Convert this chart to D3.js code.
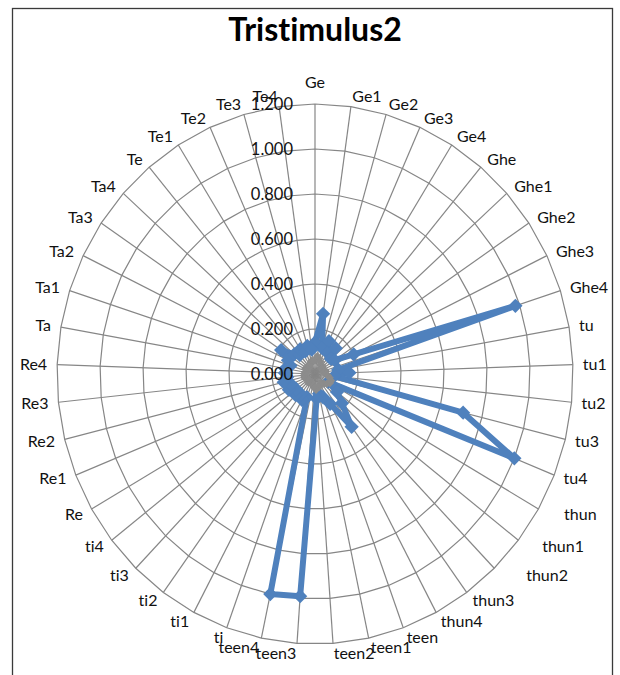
<!DOCTYPE html>
<html>
<head>
<meta charset="utf-8">
<script src="https://cdn.jsdelivr.net/npm/d3@7/dist/d3.min.js"></script>
<style>
  html, body { margin: 0; padding: 0; background: #fff; }
  svg { display: block; }
  text { font-variant-ligatures: none; }
</style>
</head>
<body>
<div id="chart"></div>
<script>
// Categories (clockwise from the top)
const categories = [
    'Ge', 'Ge1', 'Ge2', 'Ge3', 'Ge4',
    'Ghe', 'Ghe1', 'Ghe2', 'Ghe3', 'Ghe4',
    'tu', 'tu1', 'tu2', 'tu3', 'tu4',
    'thun', 'thun1', 'thun2', 'thun3', 'thun4',
    'teen', 'teen1', 'teen2', 'teen3', 'teen4',
    'ti', 'ti1', 'ti2', 'ti3', 'ti4',
    'Re', 'Re1', 'Re2', 'Re3', 'Re4',
    'Ta', 'Ta1', 'Ta2', 'Ta3', 'Ta4',
    'Te', 'Te1', 'Te2', 'Te3', 'Te4'
];

// Blue series
const seriesBlue = [
    0.14, 0.27, 0.12, 0.16, 0.11,
    0.15, 0.10, 0.11, 0.20, 0.98,
    0.11, 0.16, 0.09, 0.71, 1.00,
    0.07, 0.13, 0.18, 0.29, 0.15,
    0.11, 0.09, 0.11, 0.99, 1.00,
    0.11, 0.13, 0.11, 0.13, 0.11,
    0.14, 0.12, 0.15, 0.13, 0.14,
    0.14, 0.12, 0.14, 0.19, 0.13,
    0.11, 0.13, 0.11, 0.13, 0.11
];

// Gray series
const seriesGray = [
    0.06, 0.08, 0.07, 0.06, 0.05,
    0.05, 0.04, 0.04, 0.04, 0.05,
    0.04, 0.05, 0.06, 0.07, 0.08,
    0.08, 0.07, 0.06, 0.05, 0.05,
    0.06, 0.06, 0.07, 0.06, 0.05,
    0.04, 0.04, 0.05, 0.04, 0.04,
    0.04, 0.05, 0.05, 0.05, 0.05,
    0.04, 0.04, 0.05, 0.05, 0.04,
    0.04, 0.05, 0.05, 0.06, 0.06
];

// Radial axis ticks
const tickValues = [0, 0.2, 0.4, 0.6, 0.8, 1.0, 1.2];

const W = 620, H = 675;
const cx = 315, cy = 374;
const RX = 258, RY = 270;   // the picture is a bit narrower than tall

// Excel pushed a few labels sideways to keep them apart
const labelNudge = { thun: 17, thun1: 16, thun2: 25 };

const font = 'Lato, "Liberation Sans", sans-serif';

const svg = d3.select('#chart')
    .append('svg')
    .attr('width', W)
    .attr('height', H);

// Outer frame
svg.append('rect')
    .attr('x', 12.5)
    .attr('y', 8.5)
    .attr('width', 600)
    .attr('height', 720)
    .attr('fill', 'none')
    .attr('stroke', '#3a3a3a')
    .attr('stroke-width', 1.3);

// Title
svg.append('text')
    .attr('x', 315)
    .attr('y', 41)
    .attr('text-anchor', 'middle')
    .style('font-family', font)
    .style('font-weight', 'bold')
    .style('font-size', '32px')
    .style('fill', '#000')
    .text('Tristimulus2');

// Scales
const angle = d3.scalePoint()
    .domain(categories)
    .range([0, 2 * Math.PI * (categories.length - 1) / categories.length]);

const rx = d3.scaleLinear().domain([0, 1.2]).range([0, RX]);
const ry = d3.scaleLinear().domain([0, 1.2]).range([0, RY]);

const px = (c, v) => cx + rx(v) * Math.sin(angle(c));
const py = (c, v) => cy - ry(v) * Math.cos(angle(c));

const g = svg.append('g');

// Grid polygons
const ring = v => categories.map(c => [px(c, v), py(c, v)]);
g.selectAll('.grid')
    .data(tickValues.slice(1))
    .enter()
    .append('path')
    .attr('class', 'grid')
    .attr('d', v => d3.line()(ring(v)) + 'Z')
    .attr('fill', 'none')
    .attr('stroke', '#868686')
    .attr('stroke-width', 1.2);

// Spokes
g.selectAll('.spoke')
    .data(categories)
    .enter()
    .append('line')
    .attr('class', 'spoke')
    .attr('x1', cx)
    .attr('y1', cy)
    .attr('x2', c => px(c, 1.2))
    .attr('y2', c => py(c, 1.2))
    .attr('stroke', '#868686')
    .attr('stroke-width', 1.2);

// Category labels
const off = 10;
g.selectAll('.cat')
    .data(categories)
    .enter()
    .append('text')
    .attr('class', 'cat')
    .attr('x', c => cx + (RX + off) * Math.sin(angle(c)) + (labelNudge[c] || 0))
    .attr('y', c => {
        const y = cy - (RY + off) * Math.cos(angle(c));
        return Math.abs(Math.sin(angle(c))) < 0.05 ? y - 12 : y;
    })
    .attr('dy', '0.35em')
    .attr('text-anchor', c => {
        const s = Math.sin(angle(c));
        return Math.abs(s) < 0.05 ? 'middle' : (s > 0 ? 'start' : 'end');
    })
    .style('font-family', font)
    .style('font-size', '16px')
    .style('fill', '#111')
    .text(c => c);

// Series lines + markers
const drawSeries = (values, color, width, msize) => {
    const pts = categories.map((c, i) => [px(c, values[i]), py(c, values[i])]);
    g.append('path')
        .attr('d', d3.line()(pts) + 'Z')
        .attr('fill', 'none')
        .attr('stroke', color)
        .attr('stroke-width', width)
        .attr('stroke-linejoin', 'round');
    g.append('g')
        .selectAll('path')
        .data(pts)
        .enter()
        .append('path')
        .attr('transform', d => `translate(${d[0]},${d[1]})`)
        .attr('d', d3.symbol().type(d3.symbolDiamond2).size(msize))
        .attr('fill', color);
};

drawSeries(seriesBlue, '#4f81bd', 6, 130);
drawSeries(seriesGray, '#8c8c8c', 4, 45);

// Tick labels along the first spoke (drawn on top, like Excel)
g.selectAll('.tick')
    .data(tickValues)
    .enter()
    .append('text')
    .attr('class', 'tick')
    .attr('x', cx - 22)
    .attr('y', v => cy - ry(v))
    .attr('dy', '0.35em')
    .attr('text-anchor', 'end')
    .style('font-family', font)
    .style('font-size', '16.5px')
    .style('fill', '#111')
    .text(v => d3.format('.3f')(v));
</script>
</body>
</html>
